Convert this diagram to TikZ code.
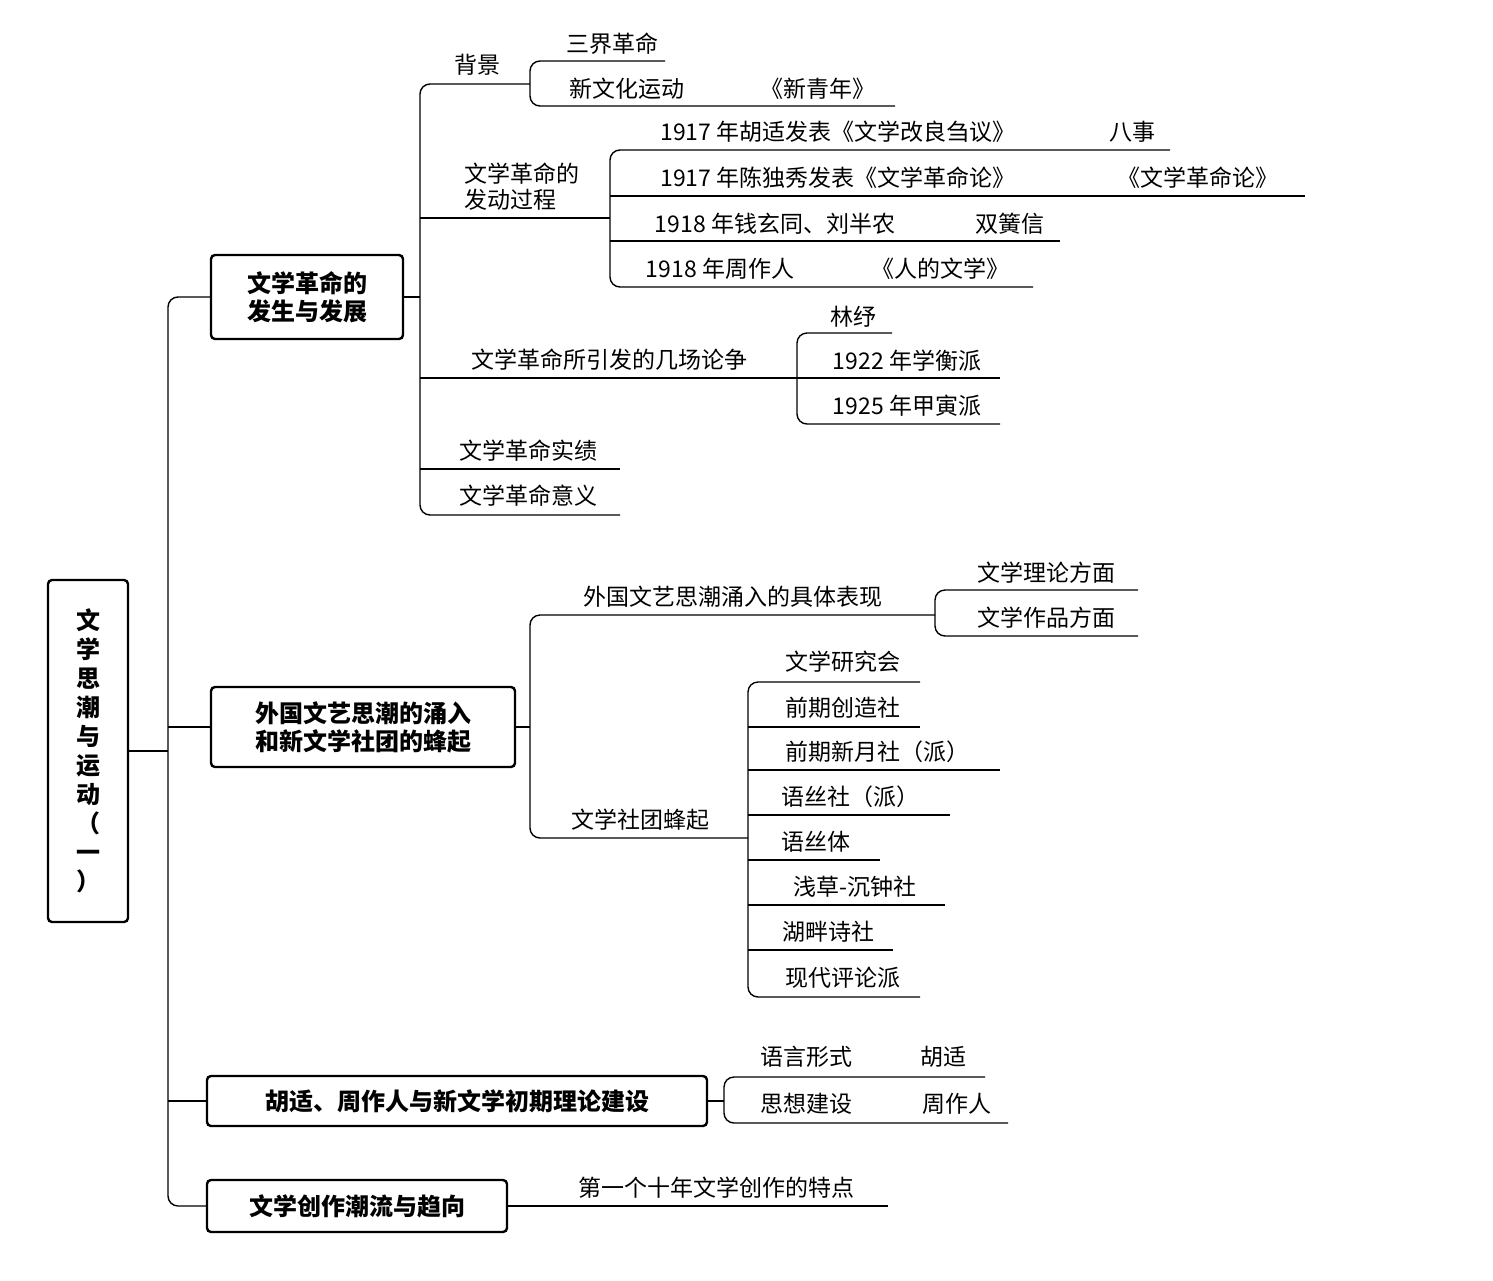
\documentclass[tikz,border=0pt]{standalone}
\usepackage{fontspec}
\setmainfont{Noto Sans CJK SC}
\tikzset{
  box/.style={draw, line width=1.2pt, rounded corners=2pt, align=center, font=\bfseries\fontsize{12}{14}\selectfont, inner sep=0pt},
  leaf/.style={font=\fontsize{11.5}{13}\selectfont, align=left, inner sep=0pt},
  br/.style={line width=0.7pt, rounded corners=5pt},
  ln/.style={line width=0.7pt}
}
\begin{document}
\begin{tikzpicture}[x=0.5pt,y=-0.5pt]
  \useasboundingbox (0,0) rectangle (1493,1280);
  % main boxes
  \node[box, minimum width=40pt, minimum height=171pt, font=\bfseries\fontsize{12}{14.5}\selectfont] (root) at (88,751) {文\\学\\思\\潮\\与\\运\\动\\（\\一\\）};
  \node[box, minimum width=96pt, minimum height=42pt] (b1) at (307,297) {文学革命的\\发生与发展};
  \node[box, minimum width=152pt, minimum height=40pt] (b2) at (363,727) {外国文艺思潮的涌入\\和新文学社团的蜂起};
  \node[box, minimum width=250pt, minimum height=25pt] (b3) at (457,1101) {胡适、周作人与新文学初期理论建设};
  \node[box, minimum width=150pt, minimum height=26pt] (b4) at (357,1206) {文学创作潮流与趋向};
  % root bracket
  \draw[ln] (root.east) -- (168,751);
  \draw[br] (b1.west) -- (168,297) -- (168,1206) -- (b4.west);
  \draw[ln] (168,727) -- (b2.west);
  \draw[ln] (168,1101) -- (b3.west);

  % box 1
  \draw[ln] (b1.east) -- (420,297);
  \draw[br] (530,84) -- (420,84) -- (420,515) -- (620,515);
  \draw[ln] (420,218) -- (610,218);
  \draw[ln] (420,378) -- (797,378);
  \draw[ln] (420,469) -- (620,469);
  \node[leaf] (bj) at (477,65) {背景};
  \node[leaf] (fd) at (522,187) {文学革命的\\发动过程};
  \node[leaf] (lz) at (609,360) {文学革命所引发的几场论争};
  \node[leaf] (sj) at (528,451) {文学革命实绩};
  \node[leaf] (yy) at (528,496) {文学革命意义};
  % background
  \draw[br] (665,61) -- (530,61) -- (530,106) -- (895,106);
  \node[leaf] (sjgm) at (612,44) {三界革命};
  \node[leaf] (xwh) at (627,89) {新文化运动};
  \node[leaf] (xqn) at (818,89) {《新青年》};
  % process
  \draw[br] (1170,150) -- (610,150) -- (610,287) -- (1033,287);
  \draw[ln] (610,196) -- (1305,196);
  \draw[ln] (610,241) -- (1060,241);
  \node[leaf] (p1) at (838,132) {1917 年胡适发表《文学改良刍议》};
  \node[leaf] (p1b) at (1132,132) {八事};
  \node[leaf] (p2) at (838,178) {1917 年陈独秀发表《文学革命论》};
  \node[leaf] (p2b) at (1198,178) {《文学革命论》};
  \node[leaf] (p3) at (775,224) {1918 年钱玄同、刘半农};
  \node[leaf] (p3b) at (1010,224) {双簧信};
  \node[leaf] (p4) at (720,269) {1918 年周作人};
  \node[leaf] (p4b) at (940,269) {《人的文学》};
  % debates
  \draw[br] (892,333) -- (797,333) -- (797,424) -- (1000,424);
  \draw[ln] (797,378) -- (1000,378);
  \node[leaf] (lin) at (853,317) {林纾};
  \node[leaf] (xh) at (907,361) {1922 年学衡派};
  \node[leaf] (jy) at (907,406) {1925 年甲寅派};

  % box 2
  \draw[ln] (b2.east) -- (530,727);
  \draw[br] (935,615) -- (530,615) -- (530,838) -- (748,838);
  \node[leaf] (wg) at (733,597) {外国文艺思潮涌入的具体表现};
  \node[leaf] (st) at (640,820) {文学社团蜂起};
  \draw[br] (1138,590) -- (935,590) -- (935,636) -- (1138,636);
  \node[leaf] (ll) at (1046,573) {文学理论方面};
  \node[leaf] (zp) at (1046,618) {文学作品方面};
  \draw[br] (920,682) -- (748,682) -- (748,997) -- (920,997);
  \foreach \y/\e in {727/920, 770/1000, 815/950, 860/880, 905/945, 950/893}
    \draw[ln] (748,\y) -- (\e,\y);
  \node[leaf] (s1) at (843,662) {文学研究会};
  \node[leaf] (s2) at (843,708) {前期创造社};
  \node[leaf] (s3) at (877,752) {前期新月社（派）};
  \node[leaf] (s4) at (850,797) {语丝社（派）};
  \node[leaf] (s5) at (816,842) {语丝体};
  \node[leaf] (s6) at (855,887) {浅草-沉钟社};
  \node[leaf] (s7) at (828,932) {湖畔诗社};
  \node[leaf] (s8) at (843,978) {现代评论派};

  % box 3
  \draw[ln] (b3.east) -- (724,1101);
  \draw[br] (985,1077) -- (724,1077) -- (724,1123) -- (1008,1123);
  \node[leaf] (yyxs) at (806,1057) {语言形式};
  \node[leaf] (hs) at (943,1057) {胡适};
  \node[leaf] (sxjs) at (806,1104) {思想建设};
  \node[leaf] (zzr) at (957,1104) {周作人};

  % box 4
  \draw[ln] (b4.east) -- (888,1206);
  \node[leaf] (td) at (716,1188) {第一个十年文学创作的特点};
\end{tikzpicture}
\end{document}
